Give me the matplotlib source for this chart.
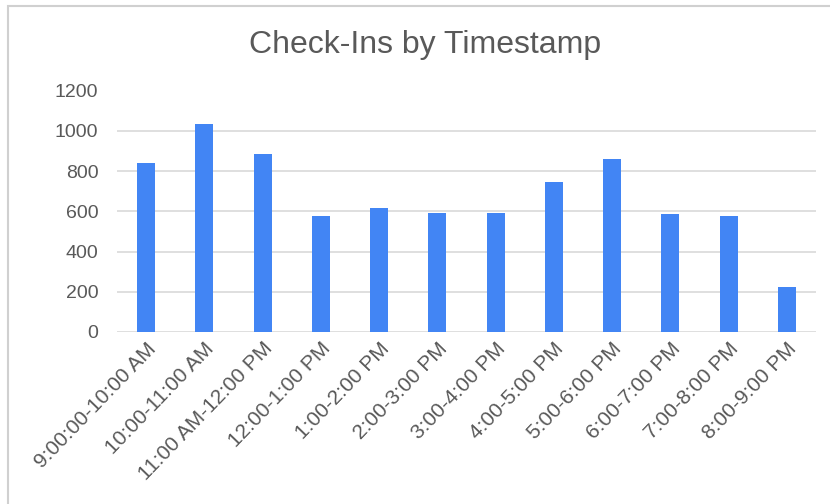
import matplotlib.pyplot as plt
from matplotlib.patches import Rectangle

slots = ["9:00:00-10:00 AM", "10:00-11:00 AM", "11:00 AM-12:00 PM", "12:00-1:00 PM",
         "1:00-2:00 PM", "2:00-3:00 PM", "3:00-4:00 PM", "4:00-5:00 PM",
         "5:00-6:00 PM", "6:00-7:00 PM", "7:00-8:00 PM", "8:00-9:00 PM"]
checkins = [840, 1035, 885, 575, 615, 590, 590, 745, 862, 585, 575, 223]
yticks = [0, 200, 400, 600, 800, 1000, 1200]

plt.rcParams['font.family'] = ['Liberation Sans', 'DejaVu Sans']
grey = '#595959'

fig = plt.figure(figsize=(8.3, 5.04), dpi=100)
ax = fig.add_axes([117 / 830, 1 - 332 / 504, (816 - 117) / 830, (332 - 90.5) / 504])

x = list(range(len(slots)))
ax.bar(x, checkins, width=0.31, color='#4285F4', zorder=3)

ax.set_xlim(-0.5, len(slots) - 0.5)
ax.set_ylim(0, 1200)
ax.set_yticks(yticks)
ax.set_yticklabels([str(v) for v in yticks], color=grey, fontsize=14)
ax.set_xticks(x)
ax.set_xticklabels(slots, rotation=46, ha='right', rotation_mode='anchor',
                   color=grey, fontsize=15)
ax.tick_params(axis='both', length=0)
ax.tick_params(axis='y', pad=13.5)
ax.tick_params(axis='x', pad=5)
ax.grid(axis='y', color='#d9d9d9', linewidth=1.2, zorder=0)
for s in ax.spines.values():
    s.set_visible(False)

fig.text(425 / 830, 1 - 53 / 504, "Check-Ins by Timestamp", ha='center', va='baseline',
         fontsize=23, color=grey)

# outer border of the chart image
fig.patches.append(Rectangle((8 / 830, -0.01), 1.1, 1 - 6 / 504 + 0.01, transform=fig.transFigure,
                             fill=False, edgecolor='#d0d0d0', linewidth=1.5))

plt.savefig('out.png')
plt.close(fig)
